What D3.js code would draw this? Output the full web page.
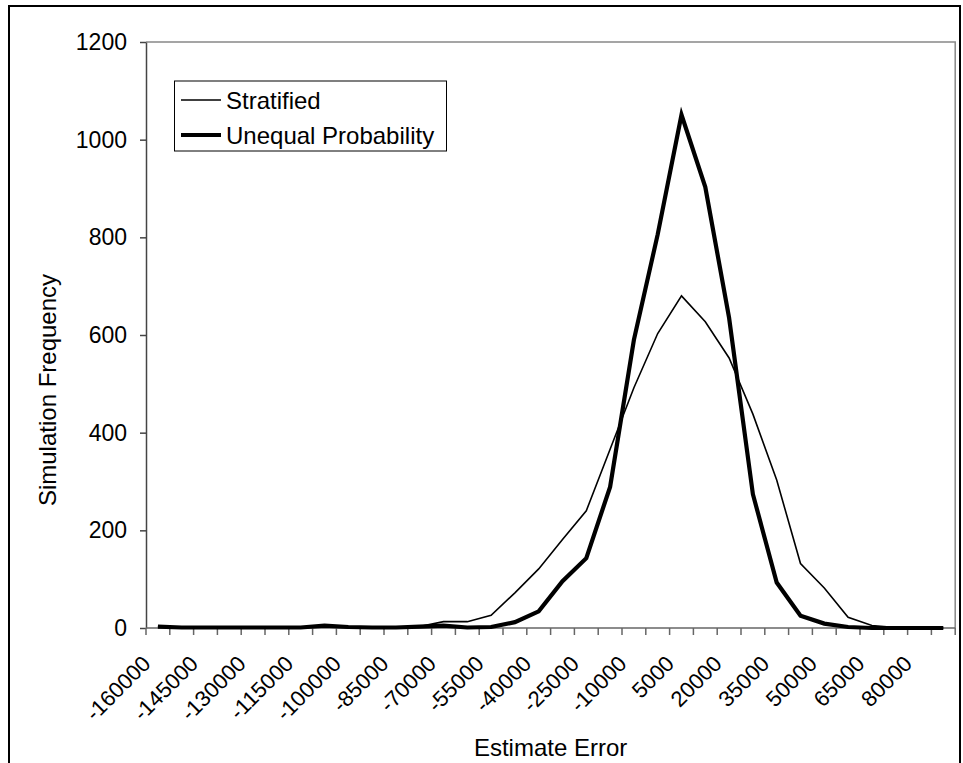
<!DOCTYPE html>
<html><head><meta charset="utf-8">
<script src="https://cdn.jsdelivr.net/npm/d3@7"></script>
<style>
body{margin:0;background:#fff;}
svg{display:block;font-family:"Liberation Sans",Arial,sans-serif;}
</style></head>
<body><svg id="c" width="963" height="763"></svg>
<script>
const categories = [-160000,-152500,-145000,-137500,-130000,-122500,-115000,-107500,-100000,-92500,-85000,-77500,-70000,-62500,-55000,-47500,-40000,-32500,-25000,-17500,-10000,-2500,5000,12500,20000,27500,35000,42500,50000,57500,65000,72500,80000,87500];
const stratified = [3,1,1,1,1,1,1,2,1,1,1,3,13,13,26,72,121,181,240,366,492,603,680,627,553,438,303,132,82,22,5,1,1,0];
const unequal = [3,1,1,1,1,1,1,5,2,1,1,3,5,1,2,12,34,96,143,289,590,806,1051,903,635,274,93,25,9,2,0,0,0,0];
const yTicks = [0,200,400,600,800,1000,1200];
const seriesNames = ["Stratified","Unequal Probability"];

const svg = d3.select("#c");
const L=146, R=955.2, T=42, B=628;
const x = d3.scaleBand().domain(categories).range([L,R]).padding(0);
const y = d3.scaleLinear().domain([0,1200]).range([B,T]);
const cx = c => x(c) + x.bandwidth()/2;

// outer border
svg.append("rect").attr("x",9).attr("y",6).attr("width",951).attr("height",780)
  .attr("fill","none").attr("stroke","#000").attr("stroke-width",2);

// plot border (top & right)
svg.append("path").attr("d",`M${L},${T}H${R}V${B}`).attr("fill","none").attr("stroke","#888").attr("stroke-width",1.5);

// y axis
const ya = svg.append("g").attr("transform",`translate(${L},0)`)
  .call(d3.axisLeft(y).tickValues(yTicks).tickFormat(d3.format("d")).tickSize(6).tickPadding(13).tickSizeOuter(0));
ya.select(".domain").attr("stroke","#444").attr("stroke-width",1.5);
ya.selectAll(".tick line").attr("stroke","#444").attr("stroke-width",1.5);
ya.selectAll("text").attr("font-size",23).attr("font-family","Liberation Sans, Arial").attr("fill","#000");

// x axis line + ticks at band boundaries
svg.append("line").attr("x1",L).attr("x2",R).attr("y1",B).attr("y2",B).attr("stroke","#666").attr("stroke-width",1.5);
const bounds = categories.map(c=>x(c)).concat([x(categories[categories.length-1])+x.bandwidth()]);
svg.append("g").selectAll("line").data(bounds).join("line")
  .attr("x1",d=>d).attr("x2",d=>d).attr("y1",B).attr("y2",B+7).attr("stroke","#666").attr("stroke-width",1.5);

// x tick labels every other category
svg.append("g").selectAll("text").data(categories.filter((c,i)=>i%2===0)).join("text")
  .attr("transform",d=>`translate(${cx(d)-6},${B+37}) rotate(-45)`)
  .attr("text-anchor","end").attr("font-size",22).text(d=>d);

// lines
const line = d3.line().x((d,i)=>cx(categories[i])).y(d=>y(d));
svg.append("path").datum(stratified).attr("d",line).attr("fill","none").attr("stroke","#000").attr("stroke-width",1.6).attr("stroke-linejoin","miter");
svg.append("path").datum(unequal).attr("d",line).attr("fill","none").attr("stroke","#000").attr("stroke-width",4.2).attr("stroke-linejoin","miter");

// axis titles
svg.append("text").attr("x",(L+R)/2).attr("y",756).attr("text-anchor","middle").attr("font-size",24).text("Estimate Error");
svg.append("text").attr("transform","translate(56,390) rotate(-90)").attr("text-anchor","middle").attr("font-size",24).text("Simulation Frequency");

// legend
const lg = svg.append("g");
lg.append("rect").attr("x",174.5).attr("y",81).attr("width",272).attr("height",70).attr("fill","#fff").attr("stroke","#000").attr("stroke-width",1);
const lw=[1.6,4.2], ly=[100,135];
seriesNames.forEach((n,i)=>{
  lg.append("line").attr("x1",181).attr("x2",221).attr("y1",ly[i]).attr("y2",ly[i]).attr("stroke","#000").attr("stroke-width",lw[i]);
  lg.append("text").attr("x",226).attr("y",ly[i]+8.5).attr("font-size",24).text(n);
});
</script></body></html>
